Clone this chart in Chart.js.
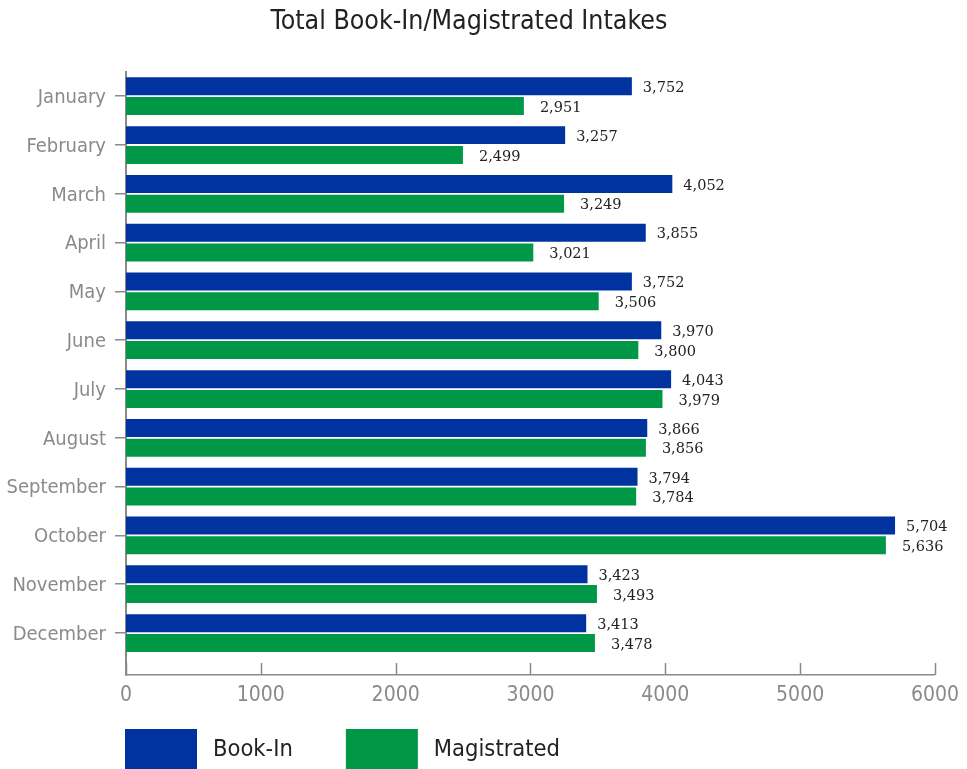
<!DOCTYPE html>
<html>
<head>
<meta charset="utf-8">
<script src="https://cdn.jsdelivr.net/npm/chart.js@4"></script>
<style>
html,body{margin:0;padding:0;background:#fff;}
#wrap{width:967px;height:769px;position:relative;}
</style>
</head>
<body>
<div id="wrap"><canvas id="c" width="967" height="769"></canvas></div>
<script>
const months = ["January","February","March","April","May","June","July","August","September","October","November","December"];
const bookIn = [3752,3257,4052,3855,3752,3970,4043,3866,3794,5704,3423,3413];
const magistrated = [2951,2499,3249,3021,3506,3800,3979,3856,3784,5636,3493,3478];
const seriesNames = ["Book-In","Magistrated"];
const seriesColors = ["#0033a0","#009846"];
const xTicks = [0,1000,2000,3000,4000,5000,6000];

const SANS = "'Liberation Sans Narrow','DejaVu Sans Condensed','Arial Narrow',sans-serif";
const SERIF = "'DejaVu Serif','Liberation Serif',serif";
const GREY = '#8a8a8a';
const labelOffsets = [11, 16];

const valueLabels = {
  id: 'valueLabels',
  afterDatasetsDraw(chart) {
    const ctx = chart.ctx;
    ctx.save();
    ctx.font = '14.5px ' + SERIF;
    ctx.fillStyle = '#222';
    ctx.textBaseline = 'middle';
    ctx.textAlign = 'left';
    chart.data.datasets.forEach((ds, di) => {
      const meta = chart.getDatasetMeta(di);
      meta.data.forEach((bar, i) => {
        const v = ds.data[i].x;
        ctx.fillText(v.toLocaleString('en-US'), bar.x + labelOffsets[di], bar.y + 2);
      });
    });
    ctx.restore();
  }
};

const innerTicks = {
  id: 'innerTicks',
  afterDraw(chart) {
    const s = chart.scales.x;
    const ctx = chart.ctx;
    ctx.save();
    ctx.strokeStyle = GREY;
    ctx.lineWidth = 1.5;
    s.ticks.forEach(t => {
      const px = Math.round(s.getPixelForValue(t.value)) + 0.5;
      ctx.beginPath();
      ctx.moveTo(px, s.top - 12);
      ctx.lineTo(px, s.top);
      ctx.stroke();
    });
    ctx.restore();
  }
};

const customLegend = {
  id: 'customLegend',
  afterDraw(chart) {
    const ctx = chart.ctx;
    const left = chart.chartArea.left;
    const boxW = 72, boxH = 42, top = 729, gap = 53, textGap = 16;
    ctx.save();
    ctx.font = '23.5px ' + SANS;
    ctx.textBaseline = 'middle';
    ctx.textAlign = 'left';
    let x = left - 1;
    chart.data.datasets.forEach(ds => {
      ctx.fillStyle = ds.backgroundColor;
      ctx.fillRect(x, top, boxW, boxH);
      ctx.fillStyle = '#222';
      const tx = x + boxW + textGap;
      ctx.fillText(ds.label, tx, top + 21);
      x = tx + ctx.measureText(ds.label).width + gap;
    });
    ctx.restore();
  }
};

new Chart(document.getElementById('c'), {
  type: 'bar',
  data: {
    datasets: [
      { label: seriesNames[0], backgroundColor: seriesColors[0], data: bookIn.map((v, i) => ({ x: v, y: i })) },
      { label: seriesNames[1], backgroundColor: seriesColors[1], data: magistrated.map((v, i) => ({ x: v, y: i })) }
    ]
  },
  options: {
    indexAxis: 'y',
    responsive: false,
    animation: false,
    categoryPercentage: 0.81,
    barPercentage: 0.91,
    layout: { padding: { top: 0, right: 29, bottom: 60, left: 0 } },
    plugins: {
      legend: { display: false },
      tooltip: { enabled: false },
      title: {
        display: true,
        text: 'Total Book-In/Magistrated Intakes',
        color: '#222',
        font: { family: SANS, size: 26.5, weight: 'normal' },
        padding: { top: 6, bottom: 34 }
      }
    },
    scales: {
      y: {
        type: 'linear',
        reverse: true,
        offset: false,
        min: -0.5,
        max: 11.86,
        afterBuildTicks: s => { s.ticks = months.map((m, i) => ({ value: i })); },
        afterFit: s => { s.width = 126; },
        ticks: {
          callback: v => months[v],
          color: GREY,
          padding: 9,
          labelOffset: 1.5,
          font: { family: SANS, size: 20 }
        },
        grid: { display: true, offset: false, drawOnChartArea: false, drawTicks: true, tickLength: 11, color: GREY, lineWidth: 1.5 },
        border: { display: true, color: GREY, width: 2 }
      },
      x: {
        type: 'linear',
        min: 0,
        max: 6000,
        offset: false,
        afterBuildTicks: s => { s.ticks = xTicks.map(v => ({ value: v })); },
        afterFit: s => { s.height = 34; },
        ticks: {
          color: GREY,
          padding: 8,
          maxRotation: 0,
          font: { family: SANS, size: 21 },
          callback: v => String(v)
        },
        grid: { display: false, drawTicks: false },
        border: { display: true, color: GREY, width: 1.5 }
      }
    }
  },
  plugins: [valueLabels, innerTicks, customLegend]
});
</script>
</body>
</html>
